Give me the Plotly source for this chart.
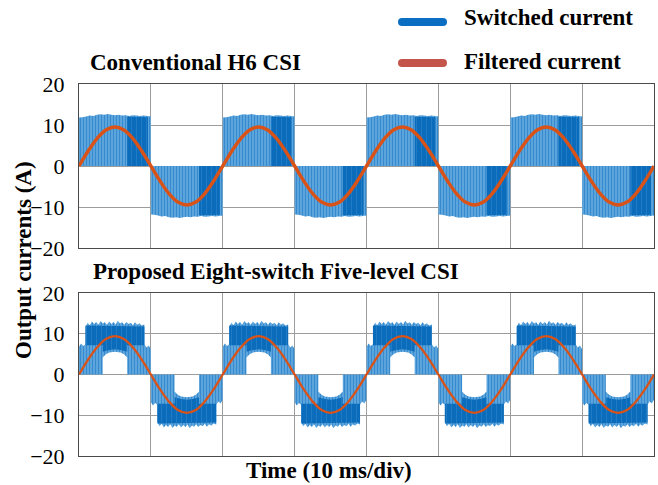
import numpy as np
import plotly.graph_objects as go

# ---------------------------------------------------------------- data
# time axis: 8 divisions of 10 ms
t_total_ms = 80
half_cycle_ms = 10

# filtered (fundamental) output current, sampled every 1.25 ms [A]
filt_step_ms = 1.25
filtered_h6 = [0.0, 3.6, 6.7, 8.8, 9.5, 8.8, 6.7, 3.6,
               0.0, -3.6, -6.7, -8.8, -9.5, -8.8, -6.7, -3.6,
               0.0, 3.6, 6.7, 8.8, 9.5, 8.8, 6.7, 3.6,
               0.0, -3.6, -6.7, -8.8, -9.5, -8.8, -6.7, -3.6,
               0.0, 3.6, 6.7, 8.8, 9.5, 8.8, 6.7, 3.6,
               0.0, -3.6, -6.7, -8.8, -9.5, -8.8, -6.7, -3.6,
               0.0, 3.6, 6.7, 8.8, 9.5, 8.8, 6.7, 3.6,
               0.0, -3.6, -6.7, -8.8, -9.5, -8.8, -6.7, -3.6, 0.0]
filtered_5l = [0.0, 3.6, 6.6, 8.7, 9.4, 8.7, 6.6, 3.6,
               0.0, -3.6, -6.6, -8.7, -9.4, -8.7, -6.6, -3.6,
               0.0, 3.6, 6.6, 8.7, 9.4, 8.7, 6.6, 3.6,
               0.0, -3.6, -6.6, -8.7, -9.4, -8.7, -6.6, -3.6,
               0.0, 3.6, 6.6, 8.7, 9.4, 8.7, 6.6, 3.6,
               0.0, -3.6, -6.6, -8.7, -9.4, -8.7, -6.6, -3.6,
               0.0, 3.6, 6.6, 8.7, 9.4, 8.7, 6.6, 3.6,
               0.0, -3.6, -6.6, -8.7, -9.4, -8.7, -6.6, -3.6, 0.0]

# switched current envelope within one half cycle (magnitude, A)
# conventional H6 CSI: two-level PWM between 0 and Idc
h6_hi_t = [0, 0.5, 1.0, 1.5, 2.0, 2.5, 3.0, 3.5, 4.0, 4.5, 5.0, 5.5,
           6.0, 6.5, 7.0, 7.5, 8.0, 8.5, 9.0, 9.5, 10]
h6_hi = [11.8, 11.9, 12.1, 12.3, 12.2, 12.5, 12.6, 12.5, 12.7, 12.5, 12.4,
         12.5, 12.3, 12.4, 12.2, 12.4, 12.3, 12.2, 12.3, 12.2, 12.1]
h6_lo_t = [0, 10]
h6_lo = [0, 0]
# densely switched interval (ms into the half cycle)
h6_dense_t = [6.7, 9.6]

# proposed five-level CSI: levels 0, Idc/2, Idc
fl_hi_t = [0, 0.3, 0.6, 0.9, 0.9, 1.2, 1.5, 1.8, 2.1, 2.4, 2.7, 3.0, 3.3,
           3.6, 3.9, 4.2, 4.5, 4.8, 5.1, 5.4, 5.7, 6.0, 6.3, 6.6, 6.9,
           7.2, 7.5, 7.8, 8.1, 8.4, 8.7, 9.1, 9.1, 9.4, 9.7, 10]
fl_hi = [6.8, 7.6, 7.0, 7.4, 11.6, 12.7, 12.1, 13.0, 12.4, 12.9, 12.2,
         13.1, 12.5, 12.8, 12.2, 13.0, 12.4, 12.9, 12.3, 13.2, 12.5, 12.8,
         12.2, 12.9, 12.4, 12.7, 12.1, 12.8, 12.2, 12.6, 12.0, 12.3, 7.4,
         6.6, 7.1, 6.2]
fl_lo_t = [0, 3.3, 3.3, 3.7, 4.2, 5.0, 5.8, 6.3, 6.7, 6.7, 10]
fl_lo = [0, 0, 4.2, 4.9, 5.4, 5.6, 5.4, 4.9, 4.2, 0, 0]
# dense core of the upper level band
fl_core_hi_t = [0.9, 9.1]
fl_core_hi = [12.0, 11.8]
fl_core_lo_t = [0.9, 3.3, 3.3, 4.2, 5.0, 5.8, 6.7, 6.7, 9.1]
fl_core_lo = [7.2, 7.2, 5.6, 6.0, 6.2, 6.0, 5.6, 7.2, 7.2]

# ---------------------------------------------------------------- styling
BLUE_LIGHT = "#62a8de"
BLUE_DARK = "#0b6cbb"
ORANGE = "#D95319"
LEG_BLUE = "#0a6fc2"
LEG_RED = "#c4554a"
SERIF = "Liberation Serif"
FS = 23

W, H = 658, 485
ML, MR, MT, MB = 79, 4, 84, 29
PW, PH = W - ML - MR, H - MT - MB


def px_x(x):
    return (x - ML) / PW


def px_y(y):
    return (H - MB - y) / PH


def band_polygons(hi_t, hi, lo_t, lo):
    """Closed outlines for every half cycle, separated by gaps."""
    xs, ys = [], []
    n_half = t_total_ms // half_cycle_ms
    for k in range(n_half):
        s = 1 if k % 2 == 0 else -1
        t0 = k * half_cycle_ms
        xs += [t0 + t for t in hi_t] + [t0 + t for t in lo_t[::-1]] + [None]
        ys += [s * v for v in hi] + [s * v for v in lo[::-1]] + [None]
    return xs, ys


fig = go.Figure()

# sparse switching: dark pulses over a light background
sparse = dict(shape="|", bgcolor=BLUE_LIGHT, fgcolor=BLUE_DARK,
              size=3, solidity=0.45)
# dense switching: mostly dark with thin light gaps
dense = dict(shape="|", bgcolor=BLUE_DARK, fgcolor="#4f9cd8",
             size=5, solidity=0.12)

# --- conventional H6 CSI (top)
x, y = band_polygons(h6_hi_t, h6_hi, h6_lo_t, h6_lo)
fig.add_trace(go.Scatter(x=x, y=y, mode="none", fill="toself",
                         fillcolor=BLUE_LIGHT, fillpattern=sparse,
                         xaxis="x", yaxis="y", hoverinfo="skip"))
d_hi = [float(np.interp(t, h6_hi_t, h6_hi)) - 0.3 for t in h6_dense_t]
x, y = band_polygons(h6_dense_t, d_hi, h6_dense_t, [0, 0])
fig.add_trace(go.Scatter(x=x, y=y, mode="none", fill="toself",
                         fillcolor=BLUE_DARK, fillpattern=dense,
                         xaxis="x", yaxis="y", hoverinfo="skip"))
t_f = np.arange(len(filtered_h6)) * filt_step_ms
fig.add_trace(go.Scatter(x=t_f, y=filtered_h6, mode="lines",
                         line=dict(color=ORANGE, width=3.4, shape="spline"),
                         xaxis="x", yaxis="y", hoverinfo="skip"))

# --- proposed eight-switch five-level CSI (bottom)
x, y = band_polygons(fl_hi_t, fl_hi, fl_lo_t, fl_lo)
fig.add_trace(go.Scatter(x=x, y=y, mode="none", fill="toself",
                         fillcolor=BLUE_LIGHT, fillpattern=sparse,
                         xaxis="x2", yaxis="y2", hoverinfo="skip"))
x, y = band_polygons(fl_core_hi_t, fl_core_hi, fl_core_lo_t, fl_core_lo)
fig.add_trace(go.Scatter(x=x, y=y, mode="none", fill="toself",
                         fillcolor=BLUE_DARK, fillpattern=dense,
                         xaxis="x2", yaxis="y2", hoverinfo="skip"))
t_f = np.arange(len(filtered_5l)) * filt_step_ms
fig.add_trace(go.Scatter(x=t_f, y=filtered_5l, mode="lines",
                         line=dict(color=ORANGE, width=2.3, shape="spline"),
                         xaxis="x2", yaxis="y2", hoverinfo="skip"))

# ---------------------------------------------------------------- axes
top_lo = px_y(248)
bot_hi = px_y(293)
xax = dict(range=[0, t_total_ms], dtick=half_cycle_ms, tick0=0,
           showticklabels=False, ticks="", showgrid=True,
           gridcolor="#9c9c9c", gridwidth=1, zeroline=False,
           showline=True, mirror=True, linecolor="#4a4a4a", linewidth=1)
yax = dict(range=[-20, 20], dtick=10, tick0=0, ticks="", showgrid=True,
           gridcolor="#9c9c9c", gridwidth=1, zeroline=False,
           showline=True, mirror=True, linecolor="#4a4a4a", linewidth=1,
           tickfont=dict(family=SERIF, size=22, color="black"),
           ticklabelstandoff=9)

fig.update_layout(
    width=W, height=H, margin=dict(l=ML, r=MR, t=MT, b=MB),
    paper_bgcolor="white", plot_bgcolor="white", showlegend=False,
    xaxis=dict(**xax, domain=[0, 1], anchor="y"),
    yaxis=dict(**yax, domain=[top_lo, 1], anchor="x"),
    xaxis2=dict(**xax, domain=[0, 1], anchor="y2"),
    yaxis2=dict(**yax, domain=[0, bot_hi], anchor="x2"),
)

# ---------------------------------------------------------------- texts
def label(text, x, y, size=FS, xanchor="left", angle=0):
    fig.add_annotation(text=f"<b>{text}</b>", x=px_x(x), y=px_y(y),
                       xref="paper", yref="paper", showarrow=False,
                       xanchor=xanchor, yanchor="middle", textangle=angle,
                       font=dict(family=SERIF, size=size, color="black"))


label("Conventional H6 CSI", 88, 62)
label("Proposed Eight-switch Five-level CSI", 91, 271)
label("Output currents (A)", 23, 260, xanchor="center", angle=-90)
label("Time (10 ms/div)", 329, 470, xanchor="center")
label("Switched current", 462, 18)
label("Filtered current", 462, 61)

# legend swatches (rounded bars)
for color, yc in ((LEG_BLUE, 22), (LEG_RED, 63)):
    common = dict(xref="paper", yref="paper", xsizemode="pixel",
                  ysizemode="pixel", xanchor=px_x(398), yanchor=px_y(yc),
                  fillcolor=color, line=dict(width=0), layer="above")
    fig.add_shape(type="rect", x0=4, x1=45, y0=-4, y1=4, **common)
    fig.add_shape(type="circle", x0=0, x1=8, y0=-4, y1=4, **common)
    fig.add_shape(type="circle", x0=41, x1=49, y0=-4, y1=4, **common)

fig.write_html("out.html")
